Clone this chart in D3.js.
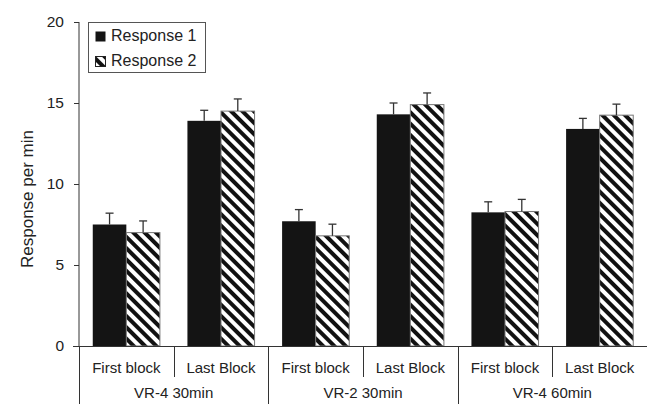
<!DOCTYPE html>
<html>
<head>
<meta charset="utf-8">
<script src="https://cdn.jsdelivr.net/npm/d3@7"></script>
<style>
  html, body { margin: 0; padding: 0; background: #fff; }
  svg { display: block; font-family: "Liberation Sans", Arial, Helvetica, sans-serif; }
</style>
</head>
<body>
<svg id="chart" width="647" height="404"></svg>
<script>
// Conditions (outer groups) and blocks (inner categories)
const groups = ["VR-4 30min", "VR-2 30min", "VR-4 60min"];
const blocks = ["First block", "Last Block"];
const series = ["Response 1", "Response 2"];

// Mean responses per minute, one entry per group x block
const response1 = [7.5, 13.9, 7.7, 14.3, 8.25, 13.4];
const response2 = [7.0, 14.5, 6.8, 14.9, 8.3, 14.25];
// Upper error (SEM) for each bar
const error1 = [0.7, 0.65, 0.72, 0.7, 0.65, 0.65];
const error2 = [0.72, 0.75, 0.72, 0.72, 0.75, 0.68];

const yTicks = [0, 5, 10, 15, 20];

const svg = d3.select("#chart");
const textColor = "#222";
const axisColor = "#333";

// Category keys: group index + block
const cats = [];
groups.forEach((g, gi) => blocks.forEach((b, bi) => cats.push({ key: gi + "|" + bi, group: g, block: b, gi, bi })));

const rows = cats.map((c, i) => ({ ...c, values: [response1[i], response2[i]], errors: [error1[i], error2[i]] }));

const plotLeft = 79, plotRight = 647, plotTop = 22, plotBase = 346;

const x0 = d3.scaleBand().domain(cats.map(c => c.key)).range([plotLeft, plotRight]).padding(0);
const x1 = d3.scaleBand().domain(series).range([0, x0.bandwidth()]).paddingInner(0).paddingOuter(0.41);
const y = d3.scaleLinear().domain([0, 20]).range([plotBase, plotTop]);

// Diagonal hatch for Response 2
const defs = svg.append("defs");
const pat = defs.append("pattern")
  .attr("id", "hatch")
  .attr("patternUnits", "userSpaceOnUse")
  .attr("width", 8).attr("height", 8)
  .attr("patternTransform", "rotate(-45)");
pat.append("rect").attr("width", 8).attr("height", 8).attr("fill", "#fff");
pat.append("rect").attr("width", 4).attr("height", 8).attr("fill", "#111");

const fills = ["#141414", "url(#hatch)"];

// Bars
const catG = svg.append("g").selectAll("g").data(rows).join("g")
  .attr("transform", d => `translate(${x0(d.key)},0)`);

catG.selectAll("rect.bar").data(d => series.map((s, i) => ({ s, i, v: d.values[i], e: d.errors[i] })))
  .join("rect")
  .attr("class", "bar")
  .attr("x", d => x1(d.s))
  .attr("y", d => y(d.v))
  .attr("width", x1.bandwidth())
  .attr("height", d => y(0) - y(d.v))
  .attr("fill", d => fills[d.i])
  .attr("stroke", d => d.i === 1 ? "#777" : "none")
  .attr("stroke-width", 1);

// Error bars (upper only)
const eb = catG.selectAll("g.err").data(d => series.map((s, i) => ({ s, i, v: d.values[i], e: d.errors[i] })))
  .join("g").attr("class", "err");
eb.append("line")
  .attr("x1", d => x1(d.s) + x1.bandwidth() / 2)
  .attr("x2", d => x1(d.s) + x1.bandwidth() / 2)
  .attr("y1", d => y(d.v))
  .attr("y2", d => y(d.v + d.e))
  .attr("stroke", axisColor).attr("stroke-width", 1.3);
eb.append("line")
  .attr("x1", d => x1(d.s) + x1.bandwidth() / 2 - 4)
  .attr("x2", d => x1(d.s) + x1.bandwidth() / 2 + 4)
  .attr("y1", d => y(d.v + d.e))
  .attr("y2", d => y(d.v + d.e))
  .attr("stroke", axisColor).attr("stroke-width", 1.3);

// Y axis
const yAxis = d3.axisLeft(y).tickValues(yTicks).tickSize(5).tickPadding(10);
const yg = svg.append("g").attr("transform", `translate(${plotLeft},0)`).call(yAxis);
yg.select(".domain").attr("stroke", axisColor).attr("d", `M0,${plotTop}V${plotBase}`);
yg.selectAll(".tick line").attr("stroke", axisColor);
yg.selectAll(".tick text").attr("fill", textColor).style("font-size", "15.5px")
  .style("font-family", "'Liberation Sans', Arial, sans-serif");

svg.append("text")
  .attr("transform", `translate(33,199) rotate(-90)`)
  .attr("text-anchor", "middle")
  .attr("fill", textColor)
  .style("font-size", "17px")
  .text("Response per min");

// X axis baseline
svg.append("line").attr("x1", plotLeft - 6).attr("x2", plotRight).attr("y1", plotBase + 0.5).attr("y2", plotBase + 0.5)
  .attr("stroke", axisColor).attr("stroke-width", 1);

// Block separators (short) and group separators (long)
cats.forEach(c => {
  const xs = x0(c.key);
  const long = c.bi === 0;
  svg.append("line")
    .attr("x1", Math.round(xs) + 0.5).attr("x2", Math.round(xs) + 0.5)
    .attr("y1", plotBase).attr("y2", long ? 404 : 377)
    .attr("stroke", axisColor).attr("stroke-width", 1);
});

// Block labels
svg.append("g").selectAll("text").data(cats).join("text")
  .attr("x", d => x0(d.key) + x0.bandwidth() / 2)
  .attr("y", 373)
  .attr("text-anchor", "middle")
  .attr("fill", textColor)
  .style("font-size", "15px")
  .text(d => d.block);

// Group labels
svg.append("g").selectAll("text").data(groups).join("text")
  .attr("x", (g, gi) => x0(gi + "|0") + x0.bandwidth())
  .attr("y", 398)
  .attr("text-anchor", "middle")
  .attr("fill", textColor)
  .style("font-size", "15px")
  .text(d => d);

// Legend
const lg = svg.append("g");
lg.append("rect").attr("x", 88.5).attr("y", 22.5).attr("width", 117).attr("height", 50)
  .attr("fill", "#fff").attr("stroke", "#555").attr("stroke-width", 1);
series.forEach((s, i) => {
  const yy = 31 + i * 25;
  lg.append("rect").attr("x", 95.5).attr("y", yy + 0.5).attr("width", 10).attr("height", 10)
    .attr("fill", fills[i]).attr("stroke", i === 1 ? "#222" : "none");
  lg.append("text").attr("x", 111).attr("y", yy + 10)
    .attr("fill", textColor).style("font-size", "16px").text(s);
});
</script>
</body>
</html>
